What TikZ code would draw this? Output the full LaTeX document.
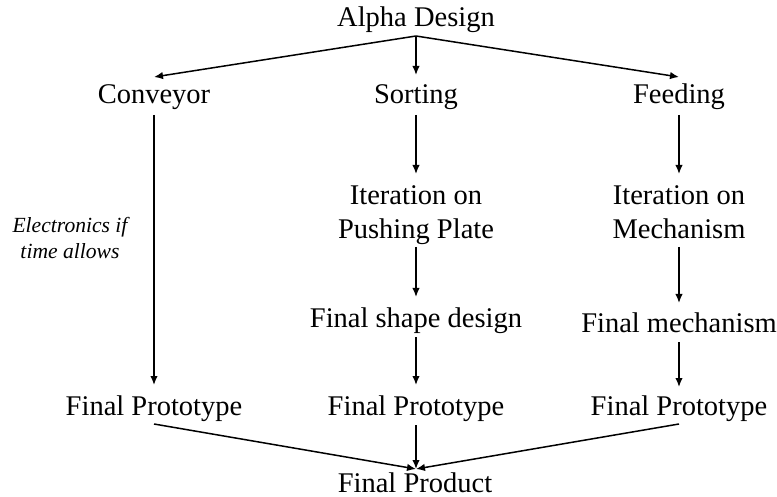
\documentclass[tikz,border=0pt]{standalone}
\usepackage{fontspec}
\setmainfont{Liberation Serif}
\newfontfamily\tnr{Liberation Serif}
\usetikzlibrary{arrows.meta}
\begin{document}
\begin{tikzpicture}[x=1pt,y=-1pt,
  lbl/.style={anchor=base,inner sep=0pt,font=\tnr\fontsize{28.5}{34}\selectfont},
  note/.style={anchor=base,inner sep=0pt,font=\tnr\fontsize{21.6}{25.5}\selectfont\itshape},
  arr/.style={line width=1.5pt,-{Latex[length=9pt,width=7.5pt]}}]
\useasboundingbox (0,0) rectangle (777,497);
\node[lbl] (alpha) at (416,27) {Alpha Design};
\node[lbl] (conv) at (154,104) {Conveyor};
\node[lbl] (sort) at (416,104) {Sorting};
\node[lbl] (feed) at (679,104) {Feeding};
\node[lbl] (iterS) at (416,205) {\begin{tabular}[t]{@{}c@{}}Iteration on\\Pushing Plate\end{tabular}};
\node[lbl] (iterF) at (679,205) {\begin{tabular}[t]{@{}c@{}}Iteration on\\Mechanism\end{tabular}};
\node[lbl] (shape) at (416,327) {Final shape design};
\node[lbl] (mech) at (679,333) {Final mechanism};
\node[lbl] (protoL) at (154,415) {Final Prototype};
\node[lbl] (protoM) at (416,415) {Final Prototype};
\node[lbl] (protoR) at (679,415) {Final Prototype};
\node[lbl] (product) at (415,492) {Final Product};
\node[note] (elec) at (70,233) {\begin{tabular}[t]{@{}c@{}}Electronics if\\time allows\end{tabular}};
\draw[arr] ([yshift=-9pt]alpha.base) -- ([yshift=27pt]conv.base);
\draw[arr] ([yshift=-9pt]alpha.base) -- ([yshift=29pt]sort.base);
\draw[arr] ([yshift=-9pt]alpha.base) -- ([yshift=27pt]feed.base);
\draw[arr] ([yshift=-11pt]conv.base) -- ([yshift=30pt]protoL.base);
\draw[arr] ([yshift=-11pt]sort.base) -- ([yshift=31pt]iterS.base);
\draw[arr] ([yshift=-42pt]iterS.base) -- ([yshift=30pt]shape.base);
\draw[arr] ([yshift=-10pt]shape.base) -- ([yshift=30pt]protoM.base);
\draw[arr] ([yshift=-11pt]feed.base) -- ([yshift=31pt]iterF.base);
\draw[arr] ([yshift=-42pt]iterF.base) -- ([yshift=30pt]mech.base);
\draw[arr] ([yshift=-9pt]mech.base) -- ([yshift=28pt]protoR.base);
\draw[arr] ([yshift=-9pt]protoL.base) -- ([yshift=23pt,xshift=1pt]product.base);
\draw[arr] ([yshift=-10pt]protoM.base) -- ([yshift=23pt,xshift=1pt]product.base);
\draw[arr] ([yshift=-9pt]protoR.base) -- ([yshift=23pt,xshift=1pt]product.base);
\end{tikzpicture}
\end{document}
